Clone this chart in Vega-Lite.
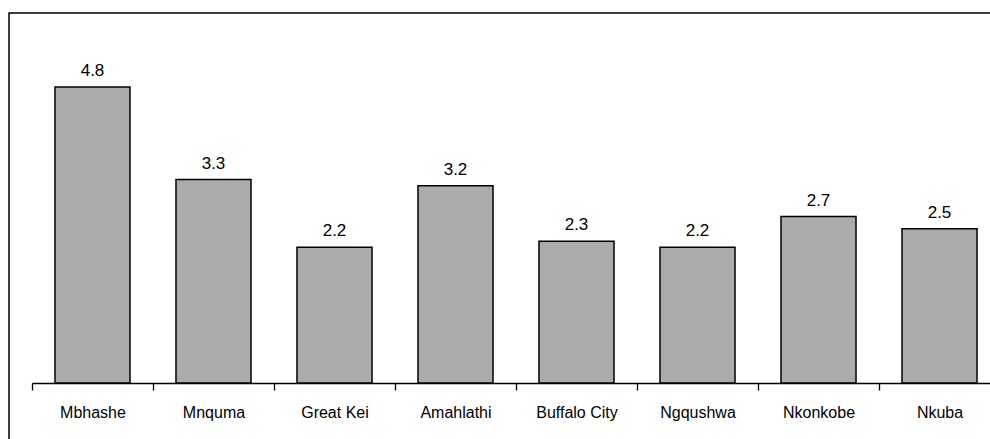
{
  "$schema": "https://vega.github.io/schema/vega-lite/v6.json",
  "autosize": {"type": "none"},
  "padding": {"left": 9, "top": 13, "right": 0, "bottom": 0},
  "width": 991,
  "height": 440,
  "background": "white",
  "config": {
    "view": {"stroke": "#000000", "strokeWidth": 1.5},
    "font": "Liberation Sans, Arial, sans-serif"
  },
  "data": {
    "values": [
      {"municipality": "Mbhashe", "value": 4.8},
      {"municipality": "Mnquma", "value": 3.3},
      {"municipality": "Great Kei", "value": 2.2},
      {"municipality": "Amahlathi", "value": 3.2},
      {"municipality": "Buffalo City", "value": 2.3},
      {"municipality": "Ngqushwa", "value": 2.2},
      {"municipality": "Nkonkobe", "value": 2.7},
      {"municipality": "Nkuba", "value": 2.5}
    ]
  },
  "encoding": {
    "x": {
      "field": "municipality",
      "type": "nominal",
      "sort": null,
      "scale": {"paddingInner": 0, "paddingOuter": 0.09504, "align": 1},
      "axis": {
        "title": null,
        "offset": -70,
        "labelAngle": 0,
        "domain": true,
        "ticks": true,
        "domainColor": "#000000",
        "domainWidth": 1.3,
        "domainDash": [0, 23, 2000],
        "tickColor": "#000000",
        "tickWidth": 1.3,
        "tickSize": 7,
        "tickBand": "extent",
        "labelPadding": 14,
        "labelFontSize": 16,
        "labelColor": "#000000",
        "labelFont": "Liberation Sans, Arial, sans-serif"
      }
    },
    "y": {
      "field": "value",
      "type": "quantitative",
      "scale": {"domain": [-1.1351, 6], "nice": false, "zero": false},
      "axis": null
    }
  },
  "layer": [
    {
      "mark": {"type": "bar", "width": {"band": 0.62}, "fill": "#ababab", "stroke": "#000000", "strokeWidth": 1.5},
      "encoding": {
        "y2": {"datum": 0}
      }
    },
    {
      "mark": {"type": "text", "baseline": "alphabetic", "dy": -11, "fontSize": 17, "color": "#000000", "font": "Liberation Sans, Arial, sans-serif"},
      "encoding": {
        "text": {"field": "value", "type": "quantitative", "format": ".1f"}
      }
    }
  ]
}
